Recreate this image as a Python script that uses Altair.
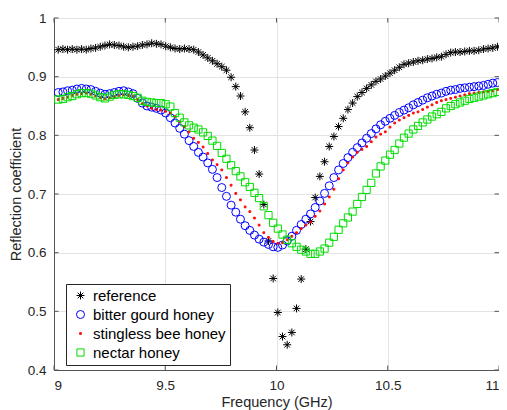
import altair as alt
import pandas as pd

# Frequency grid (GHz)
freq = [9.019, 9.040, 9.061, 9.082, 9.103, 9.124, 9.145, 9.166, 9.187, 9.208,
        9.229, 9.250, 9.271, 9.292, 9.313, 9.334, 9.355, 9.376, 9.397, 9.418,
        9.439, 9.460, 9.481, 9.502, 9.523, 9.544, 9.565, 9.586, 9.607, 9.628,
        9.649, 9.670, 9.691, 9.712, 9.733, 9.754, 9.775, 9.796, 9.817, 9.838,
        9.859, 9.880, 9.901, 9.922, 9.943, 9.964, 9.985, 10.006, 10.027, 10.048,
        10.069, 10.090, 10.111, 10.132, 10.153, 10.174, 10.195, 10.216, 10.237, 10.258,
        10.279, 10.300, 10.321, 10.342, 10.363, 10.384, 10.405, 10.426, 10.447, 10.468,
        10.489, 10.510, 10.531, 10.552, 10.573, 10.594, 10.615, 10.636, 10.657, 10.678,
        10.699, 10.720, 10.741, 10.762, 10.783, 10.804, 10.825, 10.846, 10.867, 10.888,
        10.909, 10.930, 10.951, 10.972, 10.993]

reference = [0.946, 0.947, 0.946, 0.947, 0.946, 0.947, 0.946, 0.948, 0.949, 0.951,
             0.953, 0.955, 0.954, 0.953, 0.951, 0.950, 0.951, 0.952, 0.954, 0.955,
             0.957, 0.956, 0.955, 0.952, 0.950, 0.948, 0.947, 0.948, 0.947, 0.946,
             0.942, 0.937, 0.932, 0.927, 0.922, 0.917, 0.911, 0.899, 0.883, 0.867,
             0.840, 0.813, 0.775, 0.734, 0.682, 0.620, 0.556, 0.498, 0.457, 0.443,
             0.464, 0.505, 0.555, 0.606, 0.653, 0.694, 0.730, 0.755, 0.781, 0.798,
             0.815, 0.829, 0.844, 0.855, 0.866, 0.873, 0.880, 0.886, 0.892, 0.896,
             0.901, 0.906, 0.911, 0.916, 0.921, 0.923, 0.925, 0.927, 0.928, 0.930,
             0.931, 0.933, 0.934, 0.938, 0.941, 0.942, 0.942, 0.943, 0.944, 0.944,
             0.945, 0.947, 0.948, 0.949, 0.951]

bitter_gourd = [0.873, 0.874, 0.876, 0.877, 0.879, 0.880, 0.879, 0.878, 0.875, 0.872,
                0.870, 0.871, 0.873, 0.875, 0.876, 0.874, 0.871, 0.863, 0.855, 0.850,
                0.848, 0.846, 0.843, 0.838, 0.830, 0.821, 0.812, 0.802, 0.791, 0.781,
                0.771, 0.763, 0.753, 0.742, 0.728, 0.711, 0.696, 0.681, 0.669, 0.657,
                0.646, 0.638, 0.630, 0.623, 0.618, 0.614, 0.610, 0.609, 0.613, 0.620,
                0.628, 0.638, 0.648, 0.657, 0.666, 0.677, 0.688, 0.701, 0.714, 0.728,
                0.741, 0.752, 0.762, 0.771, 0.779, 0.787, 0.795, 0.803, 0.811, 0.818,
                0.824, 0.829, 0.834, 0.839, 0.843, 0.847, 0.852, 0.856, 0.860, 0.864,
                0.867, 0.870, 0.872, 0.875, 0.877, 0.878, 0.880, 0.881, 0.882, 0.883,
                0.884, 0.885, 0.887, 0.889, 0.890]

stingless_bee = [0.861, 0.863, 0.865, 0.868, 0.870, 0.871, 0.872, 0.870, 0.867, 0.864,
                 0.862, 0.864, 0.866, 0.868, 0.869, 0.868, 0.867, 0.861, 0.854, 0.850,
                 0.846, 0.844, 0.843, 0.841, 0.838, 0.832, 0.823, 0.815, 0.806, 0.795,
                 0.788, 0.780, 0.769, 0.758, 0.750, 0.741, 0.728, 0.715, 0.701, 0.690,
                 0.678, 0.670, 0.659, 0.647, 0.634, 0.626, 0.619, 0.616, 0.617, 0.622,
                 0.628, 0.634, 0.641, 0.647, 0.652, 0.662, 0.671, 0.683, 0.695, 0.708,
                 0.726, 0.741, 0.753, 0.763, 0.771, 0.776, 0.781, 0.789, 0.797, 0.802,
                 0.806, 0.814, 0.821, 0.826, 0.830, 0.834, 0.838, 0.840, 0.844, 0.848,
                 0.852, 0.856, 0.859, 0.861, 0.863, 0.865, 0.867, 0.869, 0.871, 0.872,
                 0.873, 0.874, 0.875, 0.876, 0.878]

nectar = [0.861, 0.862, 0.865, 0.867, 0.870, 0.872, 0.872, 0.871, 0.868, 0.865,
          0.863, 0.866, 0.869, 0.870, 0.870, 0.869, 0.867, 0.864, 0.859, 0.857,
          0.856, 0.855, 0.855, 0.853, 0.849, 0.838, 0.830, 0.822, 0.817, 0.813,
          0.810, 0.805, 0.799, 0.791, 0.782, 0.770, 0.760, 0.749, 0.739, 0.730,
          0.720, 0.712, 0.702, 0.693, 0.679, 0.664, 0.651, 0.641, 0.631, 0.622,
          0.616, 0.610, 0.605, 0.602, 0.598, 0.598, 0.602, 0.607, 0.617, 0.627,
          0.639, 0.650, 0.660, 0.670, 0.683, 0.695, 0.707, 0.719, 0.735, 0.747,
          0.757, 0.767, 0.775, 0.786, 0.796, 0.803, 0.810, 0.816, 0.822, 0.827,
          0.832, 0.836, 0.840, 0.846, 0.850, 0.853, 0.856, 0.859, 0.862, 0.864,
          0.866, 0.868, 0.870, 0.872, 0.874]

series_names = ["reference", "bitter gourd honey", "stingless bee honey", "nectar honey"]
series_values = [reference, bitter_gourd, stingless_bee, nectar]

x_ticks = [9, 9.5, 10, 10.5, 11]
y_ticks = [0.4, 0.5, 0.6, 0.7, 0.8, 0.9, 1]

rows = []
for order, (name, vals) in enumerate(zip(series_names, series_values)):
    for f, v in zip(freq, vals):
        rows.append({"freq": f, "value": v, "series": name, "ord": order})
df = pd.DataFrame(rows)
xt = pd.DataFrame({"freq": x_ticks})
yt = pd.DataFrame({"value": y_ticks})

star = "M0,-1L0,1M-1,0L1,0M-0.7,-0.7L0.7,0.7M-0.7,0.7L0.7,-0.7"
dot = ("M-0.22,-0.22L0.22,-0.22L0.22,0.22L-0.22,0.22Z"
       "M-0.08,-0.08L0.08,-0.08L0.08,0.08L-0.08,0.08Z")
square = "M-0.9,-0.9L0.9,-0.9L0.9,0.9L-0.9,0.9Z"

FONT = "Liberation Sans"
W, H = 445, 352
TL = 4.5  # inward tick length

X = alt.X("freq:Q",
          scale=alt.Scale(domain=[9, 11], nice=False, zero=False),
          axis=alt.Axis(values=x_ticks, title="Frequency (GHz)", format="~g",
                        labelPadding=8, titlePadding=4))
Y = alt.Y("value:Q",
          scale=alt.Scale(domain=[0.4, 1], nice=False, zero=False),
          axis=alt.Axis(values=y_ticks, title="Reflection coefficient", format="~g",
                        labelPadding=8, titlePadding=4))

points = alt.Chart(df).mark_point(
    filled=False, strokeWidth=1, opacity=1, size=64, clip=True
).encode(
    x=X, y=Y,
    color=alt.Color("series:N",
                    scale=alt.Scale(domain=series_names,
                                    range=["#000000", "#0000ff", "#ff0000", "#00dd00"]),
                    legend=alt.Legend(title=None, orient="none", legendX=12, legendY=266,
                                      fillColor="white", strokeColor="#262626",
                                      padding=4, symbolOffset=3, labelOffset=5,
                                      rowPadding=3, symbolSize=64, symbolStrokeWidth=1,
                                      labelFontSize=15, labelFont=FONT,
                                      labelColor="#000000", labelLimit=300)),
    shape=alt.Shape("series:N",
                    scale=alt.Scale(domain=series_names,
                                    range=[star, "circle", dot, square]),
                    legend=alt.Legend(title=None, orient="none", legendX=12, legendY=266)),
    order=alt.Order("ord:Q"),
)

tick_style = dict(color="#555555", strokeWidth=1)
bottom_ticks = alt.Chart(xt).mark_rule(**tick_style).encode(
    x=X, y=alt.value(H), y2=alt.value(H - TL))
top_ticks = alt.Chart(xt).mark_rule(**tick_style).encode(
    x=X, y=alt.value(0), y2=alt.value(TL))
left_ticks = alt.Chart(yt).mark_rule(**tick_style).encode(
    y=Y, x=alt.value(0), x2=alt.value(TL))
right_ticks = alt.Chart(yt).mark_rule(**tick_style).encode(
    y=Y, x=alt.value(W), x2=alt.value(W - TL))

chart = alt.layer(
    bottom_ticks, top_ticks, left_ticks, right_ticks, points
).properties(
    width=W, height=H,
    autosize=alt.AutoSizeParams(type="none"),
    padding={"left": 46, "top": 10, "right": 0, "bottom": 40},
).configure_axis(
    grid=True, gridColor="#e3e3e3", gridWidth=1,
    domainColor="#555555", domainWidth=1,
    ticks=False,
    labelFont=FONT, labelFontSize=13.5, labelColor="#262626",
    titleFont=FONT, titleFontSize=14.5, titleFontWeight="normal", titleColor="#262626",
).configure_view(
    stroke="#555555", strokeWidth=1
)

chart.save("out.html", embed_options={"renderer": "svg", "actions": False})
